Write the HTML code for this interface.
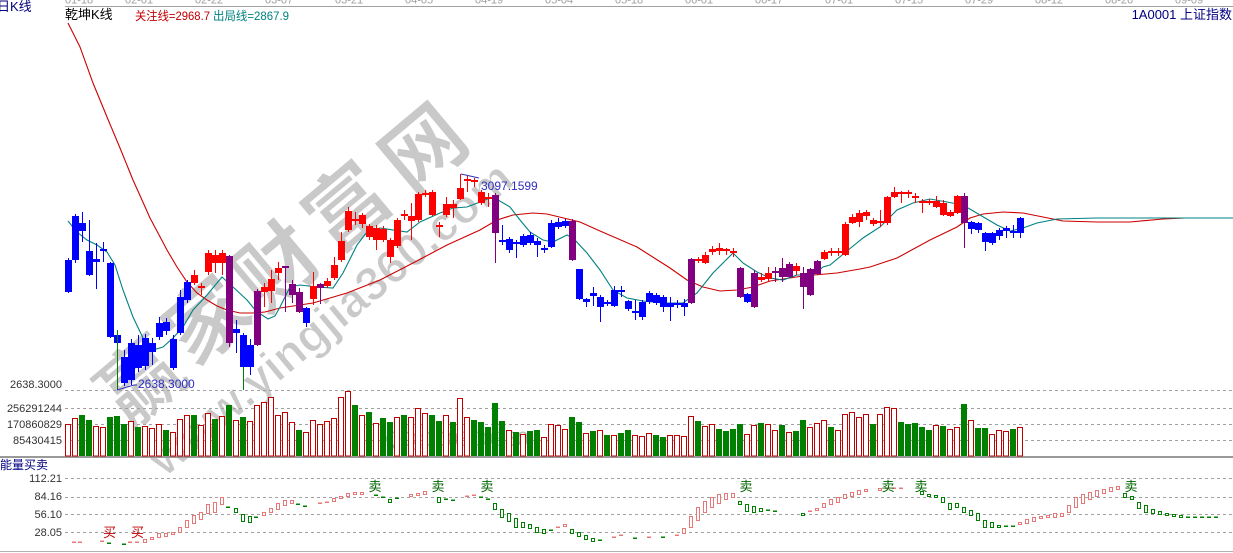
<!DOCTYPE html>
<html><head><meta charset="utf-8">
<style>
html,body{margin:0;padding:0;background:#fff;width:1233px;height:553px;overflow:hidden}
svg{display:block}
text{font-family:"Liberation Sans","Noto Sans CJK SC",sans-serif}
.cj{font-family:"Liberation Sans","Noto Sans CJK SC",sans-serif}
</style></head><body>
<svg id="c" width="1233" height="553" viewBox="0 0 1233 553" xmlns="http://www.w3.org/2000/svg">
<rect x="0" y="0" width="1233" height="553" fill="#fff"/>
<!-- watermark -->
<g fill="#c9c9c9" stroke="#ffffff" stroke-width="1" font-weight="bold" font-size="82" text-anchor="middle" dominant-baseline="central" class="cj">
<text transform="translate(142,383) rotate(-40)">赢</text>
<text transform="translate(208,322) rotate(-40)">家</text>
<text transform="translate(278,268) rotate(-40)">财</text>
<text transform="translate(348,208) rotate(-40)">富</text>
<text transform="translate(425,150) rotate(-40)">网</text>
</g>
<text transform="translate(330,318) rotate(-40)" fill="#c9c9c9" stroke="#fff" stroke-width="1" font-weight="bold" font-size="47" text-anchor="middle" dominant-baseline="central">www.yingjia360.com</text>
<text x="385" y="446" fill="#404040" fill-opacity="0.35" font-size="21">QQ:100800360</text>

<!-- grid -->
<g stroke="#a0a0a0" stroke-width="1" fill="none">
<line x1="65" y1="6.5" x2="1233" y2="6.5"/>
<g stroke-dasharray="3,3">
<line x1="65" y1="390.5" x2="1233" y2="390.5"/>
<line x1="65" y1="408.5" x2="1233" y2="408.5"/>
<line x1="65" y1="424.5" x2="1233" y2="424.5"/>
<line x1="65" y1="440.5" x2="1233" y2="440.5"/>
<line x1="65" y1="478.5" x2="1233" y2="478.5"/>
<line x1="65" y1="497.5" x2="1233" y2="497.5"/>
<line x1="65" y1="514.5" x2="1233" y2="514.5"/>
<line x1="65" y1="532.5" x2="1233" y2="532.5"/>
</g>
<line x1="0" y1="457" x2="1233" y2="457" stroke="#999" stroke-width="2"/>
<line x1="0" y1="551.5" x2="1233" y2="551.5" stroke="#b0b0b0"/>
</g>

<g id="vol"></g>
<g id="ind"></g>
<g id="lines"></g>
<g id="candles"></g>

<!-- special marks -->
<line x1="117.5" y1="330" x2="117.5" y2="390" stroke="#008000"/>
<line x1="243.5" y1="367" x2="243.5" y2="390" stroke="#008000"/>
<polyline points="117,390 134,385 137,385" fill="none" stroke="#3030c0"/>
<polyline points="461,174 479,178" fill="none" stroke="#3030c0"/>
<text x="138" y="388" fill="#3030c0" font-size="12">2638.3000</text>
<text x="481" y="190" fill="#3030c0" font-size="12">3097.1599</text>

<!-- top dates -->
<g fill="#a0a0a0" font-size="11">
<text x="65" y="3.5">01-18</text><text x="125" y="3.5">02-01</text><text x="195" y="3.5">02-22</text>
<text x="265" y="3.5">03-07</text><text x="335" y="3.5">03-21</text><text x="405" y="3.5">04-05</text>
<text x="475" y="3.5">04-19</text><text x="545" y="3.5">05-04</text><text x="615" y="3.5">05-18</text>
<text x="685" y="3.5">06-01</text><text x="755" y="3.5">06-17</text><text x="825" y="3.5">07-01</text>
<text x="895" y="3.5">07-15</text><text x="965" y="3.5">07-29</text><text x="1035" y="3.5">08-12</text>
<text x="1105" y="3.5">08-26</text><text x="1175" y="3.5">09-09</text>
</g>

<!-- header texts -->
<text x="-3" y="11" fill="#000080" font-size="13" class="cj">日K线</text>
<text x="65" y="19" fill="#000" font-size="13" class="cj">乾坤K线</text>
<text x="135" y="20" fill="#c00000" font-size="12" class="cj" textLength="75" lengthAdjust="spacingAndGlyphs">关注线=2968.7</text>
<text x="213" y="20" fill="#008080" font-size="12" class="cj" textLength="76" lengthAdjust="spacingAndGlyphs">出局线=2867.9</text>
<text x="1232" y="19" fill="#000080" font-size="13" text-anchor="end" class="cj">1A0001 上证指数</text>

<!-- axis labels -->
<g fill="#333" font-size="11" text-anchor="end">
<text x="62" y="388">2638.3000</text>
<text x="62" y="412">256291244</text>
<text x="62" y="428">170860829</text>
<text x="62" y="444">85430415</text>
<text x="62" y="482">112.21</text>
<text x="62" y="500">84.16</text>
<text x="62" y="518">56.10</text>
<text x="62" y="536">28.05</text>
</g>
<text x="0" y="469" fill="#000080" font-size="12" class="cj">能量买卖</text>

<!-- buy/sell -->
<g fill="#c00000" font-size="13" class="cj">
<text x="103" y="537">买</text><text x="131" y="537">买</text>
</g>
<g fill="#006400" font-size="13" text-anchor="middle" class="cj">
<text x="375" y="491">卖</text><text x="438" y="491">卖</text><text x="487" y="491">卖</text>
<text x="746" y="491">卖</text><text x="888" y="491">卖</text><text x="921" y="491">卖</text>
<text x="1131" y="491">卖</text>
</g>
</svg>
<script>
(function(){
const NS="http://www.w3.org/2000/svg";
function el(tag,a,p){const e=document.createElementNS(NS,tag);for(const k in a)e.setAttribute(k,a[k]);p.appendChild(e);return e;}
const COL={r:'#ff0000',b:'#0000ff',p:'#800080'};
const C=[
['b',260,292,258,293],['b',216,260,214,263],['b',223,231,212,242],['b',251,275,220,276],['b',259,262,243,289],
['b',249,251,242,262],['b',263,337,262,338],['b',335,343,332,345],['b',357,383,350,386],['b',343,380,339,385],
['b',345,368,335,372],['b',338,366,334,370],['b',343,352,338,365],['b',323,337,317,340],['b',322,331,318,335],
['b',339,368,335,370],['b',297,333,290,335],['b',282,300,280,303],['r',275,283,270,285],['r',286,288,283,295],
['r',253,272,250,275],['r',255,263,250,273],['r',253,263,250,275],['p',256,343,255,347],['b',329,333,320,353],
['b',335,367,333,368],['b',345,367,339,375],['p',291,345,289,346],['r',287,292,283,307],['r',279,291,270,303],
['r',268,273,262,280],['p',266,268,266,312],['p',284,295,280,303],['p',292,312,288,313],['b',308,323,307,327],
['r',286,299,272,305],['p',284,288,283,304],['r',281,286,278,288],['r',265,278,257,280],['r',241,260,232,262],
['r',211,230,207,232],['r',219,221,212,225],['r',215,224,213,228],['r',226,237,224,240],['r',228,240,225,250],
['r',229,240,226,242],['r',240,257,238,263],['r',220,246,218,248],['r',214,216,210,220],['r',216,221,203,240],
['r',194,220,192,222],['r',193,195,190,197],['r',192,215,190,216],['r',225,227,222,237],['r',204,215,197,217],
['r',204,208,200,218],['r',188,199,174,200],['r',179,181,175,192],['r',180,182,178,187],['r',192,203,190,205],
['r',197,199,193,207],['p',195,233,193,263],['b',240,242,225,245],['b',239,250,237,253],['b',242,244,240,258],
['b',236,245,234,247],['b',235,243,232,245],['b',241,245,238,257],['b',248,250,245,253],['b',223,247,220,248],
['b',222,227,218,229],['b',221,226,219,228],['p',221,260,219,261],['b',269,299,269,300],['b',299,302,298,307],
['b',293,296,287,306],['b',297,307,295,322],['b',302,304,300,306],['b',290,306,286,307],['b',290,292,286,297],
['b',301,309,300,311],['b',311,313,300,320],['b',302,317,300,320],['b',293,302,291,304],['b',295,303,293,305],
['b',297,307,295,312],['b',303,307,297,321],['b',303,305,300,308],['b',303,307,299,316],['p',259,303,258,304],
['r',259,261,257,263],['r',255,263,252,264],['r',249,252,246,255],['r',248,251,243,255],['r',249,251,248,255],
['r',251,253,248,257],['p',268,297,267,298],['b',294,302,293,303],['p',273,307,270,308],['r',277,280,273,282],
['r',273,279,267,282],['p',271,273,267,282],['p',268,277,258,282],['p',264,277,262,278],['r',266,271,263,275],
['p',273,287,267,309],['p',269,295,268,296],['p',261,274,260,275],['r',252,259,250,260],['r',251,253,248,256],
['r',251,253,248,256],['r',224,255,222,256],['r',217,223,214,224],['r',213,222,210,227],['r',212,216,210,220],
['r',220,224,218,226],['r',221,223,210,227],['r',197,223,196,225],['r',192,197,187,198],['r',192,194,191,203],
['r',192,194,190,198],['r',196,198,193,203],['r',201,203,199,213],['r',201,203,199,205],['r',201,207,196,208],
['r',203,215,200,216],['r',212,216,210,217],['r',196,213,195,214],['p',196,223,193,248],['b',222,229,221,234],
['b',223,230,222,233],['b',233,242,232,251],['b',233,243,232,245],['b',230,236,228,240],['b',228,231,226,238],
['b',231,233,225,238],['b',218,233,217,238]
];
const gC=document.getElementById('candles');
C.forEach((c,i)=>{const x=68+7*i;const col=COL[c[0]];
 el('rect',{x:x,y:c[3],width:1,height:c[4]-c[3],fill:col},gC);
 if(c[2]-c[1]<=2){el('rect',{x:x-3,y:(c[1]+c[2])/2-1,width:7,height:2,fill:col},gC);}
 else el('rect',{x:x-3,y:c[1],width:7,height:c[2]-c[1],fill:col},gC);
});
const V=[
[424,'r'],[418,'r'],[415,'g'],[420,'g'],[426,'r'],[427,'r'],[417,'g'],[416,'g'],[424,'g'],[421,'r'],
[427,'g'],[426,'r'],[428,'r'],[424,'r'],[430,'g'],[432,'r'],[419,'r'],[415,'r'],[415,'g'],[425,'r'],
[413,'r'],[419,'g'],[416,'r'],[405,'g'],[420,'r'],[417,'g'],[421,'r'],[405,'r'],[402,'r'],[397,'r'],
[415,'r'],[412,'r'],[422,'r'],[430,'g'],[432,'r'],[420,'r'],[424,'r'],[421,'r'],[418,'r'],[397,'r'],
[391,'r'],[405,'g'],[415,'r'],[412,'g'],[423,'r'],[418,'g'],[422,'g'],[417,'r'],[415,'g'],[417,'r'],
[408,'r'],[413,'r'],[415,'g'],[421,'g'],[415,'r'],[422,'g'],[398,'r'],[417,'r'],[420,'g'],[422,'g'],
[427,'g'],[403,'g'],[421,'g'],[430,'r'],[432,'g'],[434,'r'],[431,'g'],[430,'g'],[437,'r'],[424,'r'],
[425,'r'],[429,'r'],[417,'g'],[422,'g'],[433,'r'],[431,'g'],[430,'r'],[435,'g'],[435,'r'],[433,'g'],
[430,'g'],[435,'r'],[436,'r'],[433,'r'],[435,'g'],[437,'g'],[435,'r'],[435,'r'],[436,'r'],[416,'r'],
[421,'g'],[426,'r'],[424,'r'],[429,'g'],[431,'g'],[429,'g'],[424,'g'],[434,'r'],[425,'r'],[423,'g'],
[424,'r'],[430,'r'],[425,'g'],[432,'r'],[431,'g'],[420,'g'],[427,'r'],[423,'r'],[420,'r'],[427,'g'],
[430,'r'],[414,'r'],[412,'r'],[417,'r'],[414,'r'],[424,'g'],[414,'r'],[407,'r'],[408,'r'],[422,'g'],
[424,'g'],[423,'g'],[427,'g'],[430,'g'],[425,'r'],[426,'g'],[429,'r'],[427,'r'],[404,'g'],[420,'r'],
[428,'g'],[428,'g'],[434,'r'],[430,'r'],[431,'r'],[429,'g'],[427,'r']
];
const gV=document.getElementById('vol');
V.forEach((v,i)=>{const x=68+7*i;
 if(v[1]=='r') el('rect',{x:x-2.5,y:v[0]+0.5,width:5,height:456-v[0]-0.5,fill:'#fff',stroke:'#c00000','stroke-width':1},gV);
 else el('rect',{x:x-3,y:v[0],width:6,height:456-v[0],fill:'#008000'},gV);
});
const I=[
[74,542,542,'p'],[80,542,542,'p'],[102,541,541,'p'],[109,543,543,'g'],[124,544,544,'g'],[130,542,542,'p'],[137,542,542,'p'],
[145,539,542,'p'],[152,537,539,'p'],[159,533,537,'p'],[166,533,536,'p'],[173,532,534,'p'],[180,527,532,'p'],[187,520,527,'p'],
[194,515,523,'p'],[201,512,519,'p'],[208,504,513,'p'],[215,502,512,'p'],[222,497,504,'p'],[228,507,507,'g'],[236,508,512,'g'],
[243,514,521,'g'],[250,516,522,'g'],[256,517,517,'g'],[264,512,515,'p'],[271,508,512,'p'],[278,503,509,'p'],[285,500,505,'p'],
[292,500,503,'p'],[298,504,504,'g'],[305,506,506,'g'],[320,503,503,'p'],[327,502,503,'p'],[334,498,501,'p'],[341,496,498,'p'],
[348,493,496,'p'],[355,492,494,'p'],[362,492,494,'p'],[376,495,495,'g'],[383,497,498,'g'],[390,499,502,'g'],[397,498,498,'g'],
[411,494,496,'p'],[418,493,495,'p'],[425,491,494,'p'],[439,497,502,'g'],[446,499,499,'g'],[453,500,500,'g'],[467,496,496,'p'],
[474,495,495,'p'],[481,497,497,'g'],[488,499,499,'g'],[495,503,509,'g'],[502,509,517,'g'],[509,513,521,'g'],[516,518,527,'g'],
[523,522,527,'g'],[530,524,528,'g'],[537,527,532,'g'],[544,529,533,'g'],[551,530,530,'g'],[558,527,528,'p'],[565,524,526,'p'],
[572,529,533,'g'],[579,532,536,'g'],[586,535,539,'g'],[593,538,541,'g'],[600,540,540,'g'],[614,537,537,'p'],[621,535,535,'p'],
[635,538,538,'g'],[649,537,537,'p'],[663,537,537,'g'],[677,535,535,'p'],[684,528,533,'p'],[691,516,527,'p'],[698,507,520,'p'],
[705,501,512,'p'],[712,497,507,'p'],[719,494,503,'p'],[726,493,499,'p'],[733,493,497,'p'],[740,501,504,'g'],[747,504,511,'g'],
[754,506,512,'g'],[761,508,511,'g'],[768,510,510,'g'],[775,511,511,'g'],[803,513,515,'g'],[810,511,511,'p'],[817,508,510,'p'],
[824,503,507,'p'],[831,499,504,'p'],[838,497,502,'p'],[845,494,498,'p'],[852,492,496,'p'],[859,490,494,'p'],[866,489,491,'p'],
[880,488,490,'p'],[887,488,488,'p'],[894,488,488,'p'],[901,488,488,'p'],[922,491,494,'g'],[929,494,496,'g'],[936,495,497,'g'],
[943,497,502,'g'],[950,503,509,'g'],[957,503,507,'g'],[964,507,512,'g'],[971,510,515,'g'],[978,513,520,'g'],[985,520,527,'g'],
[992,522,527,'g'],[999,525,527,'g'],[1006,526,526,'g'],[1013,526,526,'g'],[1020,522,524,'p'],[1027,519,523,'p'],[1034,517,521,'p'],
[1041,516,518,'p'],[1048,515,517,'p'],[1055,513,517,'p'],[1062,513,516,'p'],[1069,505,512,'p'],[1076,497,507,'p'],[1083,494,503,'p'],
[1090,492,499,'p'],[1097,490,496,'p'],[1104,489,493,'p'],[1111,487,491,'p'],[1118,486,489,'p'],[1125,493,497,'g'],[1132,496,499,'g'],
[1139,502,508,'g'],[1146,505,512,'g'],[1153,509,513,'g'],[1160,511,514,'g'],[1167,513,515,'g'],[1174,514,516,'g'],[1181,515,517,'g'],
[1188,517,517,'g'],[1195,517,517,'g'],[1202,517,517,'g'],[1209,517,517,'g'],[1216,517,517,'g']
];
const gI=document.getElementById('ind');
I.forEach(t=>{const col=t[3]=='p'?'#e87878':'#008000';
 if(t[2]-t[1]<2) el('rect',{x:t[0]-2,y:t[1]-0.5,width:4,height:1.5,fill:col},gI);
 else el('rect',{x:t[0]-1.5,y:t[1]+0.5,width:3,height:t[2]-t[1],fill:'#fff',stroke:col,'stroke-width':1},gI);
});
const gL=document.getElementById('lines');
const RED=[[68,23],[80,47],[93,83],[107,117],[120,148],[133,180],[142,200],[150,218],[158,233],[167,250],[177,267],[187,282],[197,293],[207,300],[217,306],[227,310],[240,313],[253,313],[265,312],[280,308],[313,303],[347,293],[380,280],[413,263],[447,245],[480,230],[497,220],[513,215],[533,213],[547,214],[580,222],[600,231],[637,247],[670,268],[687,280],[703,287],[720,291],[737,290],[753,287],[770,281],[803,276],[837,273],[860,269],[870,267],[897,258],[930,240],[957,227],[970,218],[983,214],[1003,212],[1023,213],[1043,217],[1063,221],[1097,222],[1130,222],[1163,219],[1185,218]];
const TEAL=[[68,221],[77,232],[87,240],[97,245],[107,252],[115,265],[123,290],[133,317],[143,338],[153,350],[163,347],[173,338],[183,327],[193,310],[207,295],[222,277],[233,287],[247,300],[256,311],[268,319],[275,316],[280,307],[290,287],[300,285],[317,287],[333,288],[343,273],[357,245],[367,232],[380,228],[407,232],[420,222],[440,213],[453,208],[467,207],[480,202],[493,197],[510,207],[520,220],[530,232],[543,240],[553,242],[567,235],[573,238],[587,253],[600,270],[613,290],[627,298],[643,301],[663,303],[683,303],[697,293],[713,273],[733,253],[743,263],[757,272],[770,278],[783,280],[797,275],[813,275],[823,267],[830,265],[847,251],[863,238],[880,227],[897,210],[913,203],[930,199],[947,202],[963,205],[980,215],[997,225],[1010,231],[1023,228],[1037,223],[1057,219],[1097,218],[1233,218]];
el('polyline',{points:RED.map(p=>p.join(',')).join(' '),fill:'none',stroke:'#cc0000','stroke-width':1.1},gL);
el('polyline',{points:TEAL.map(p=>p.join(',')).join(' '),fill:'none',stroke:'#008080','stroke-width':1.1},gL);
})();
</script>
</body></html>
